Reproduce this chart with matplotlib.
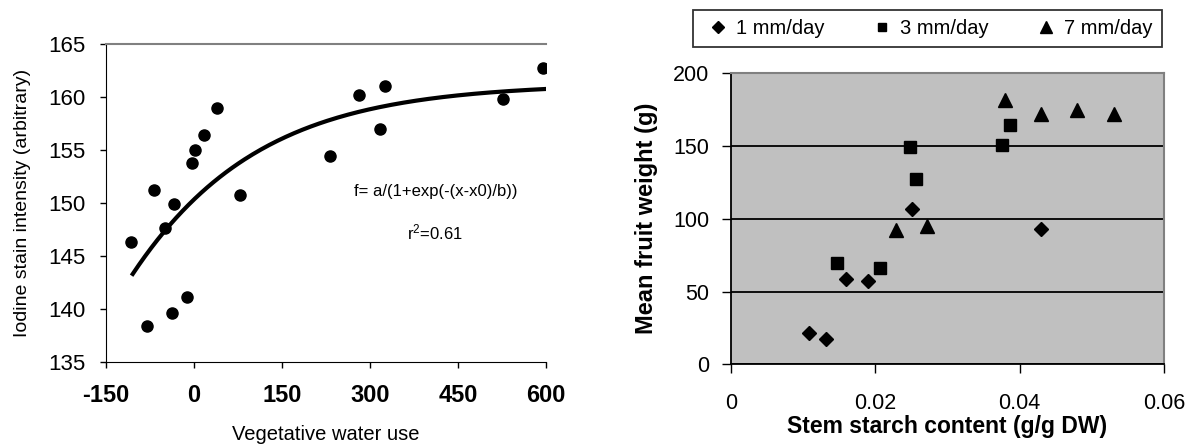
import numpy as np
import matplotlib
matplotlib.use('Agg')
import matplotlib.pyplot as plt

plt.rcParams['font.family'] = ['Liberation Sans', 'DejaVu Sans']
plt.rcParams['axes.unicode_minus'] = False

# left panel: iodine stain vs vegetative water use
water_use = [-107.5, -80.5, -67.6, -50.2, -37.3, -34.1, -11.6, -3.2, 1.9, 17.5,
             38.8, 78.9, 231.2, 280.5, 317.6, 325.4, 526.3, 595.3]
iodine = [146.3, 138.4, 151.2, 147.7, 139.6, 149.9, 141.1, 153.8, 155.0, 156.4,
          159.0, 150.8, 154.5, 160.2, 157.0, 161.1, 159.8, 162.8]
# fitted sigmoid f = a/(1+exp(-(x-x0)/b))
fit_a, fit_x0, fit_b = 161.3, -503.0, 192.0

# right panel: fruit weight vs stem starch
starch_1mm = [0.0108, 0.0131, 0.0160, 0.0190, 0.0251, 0.0429]
weight_1mm = [21.6, 17.5, 58.9, 57.2, 106.7, 92.9]
starch_3mm = [0.0147, 0.0206, 0.0248, 0.0257, 0.0376, 0.0387]
weight_3mm = [69.9, 66.0, 149.4, 127.4, 150.8, 164.6]
starch_7mm = [0.0229, 0.0271, 0.0380, 0.0430, 0.0480, 0.0530]
weight_7mm = [92.4, 95.2, 181.4, 172.0, 174.7, 172.0]

left_xticks = [-150, 0, 150, 300, 450, 600]
left_yticks = [135, 140, 145, 150, 155, 160, 165]
right_xticks = [0, 0.02, 0.04, 0.06]
right_xlabels = ['0', '0.02', '0.04', '0.06']
right_yticks = [0, 50, 100, 150, 200]

fig = plt.figure(figsize=(11.89, 4.48), dpi=100)

# ---- left panel
ax1 = fig.add_axes([0.0892, 0.192, 0.370, 0.709])
ax1.plot(water_use, iodine, 'o', color='black', ms=8)
xs = np.linspace(min(water_use) + 3, max(water_use) + 2, 200)
ax1.plot(xs, fit_a / (1 + np.exp(-(xs - fit_x0) / fit_b)), color='black', lw=3)
ax1.set_xlim(-150, 600)
ax1.set_ylim(135, 165)
ax1.set_xticks(left_xticks)
ax1.set_yticks(left_yticks)
ax1.tick_params(axis='y', direction='out', length=4, width=1, pad=11, labelsize=16)
ax1.tick_params(axis='x', direction='out', length=4, width=1, pad=12, labelsize=17)
for lab in ax1.get_xticklabels():
    lab.set_fontweight('bold')
ax1.spines['right'].set_visible(False)
ax1.spines['top'].set_color('#808080')
ax1.spines['top'].set_linewidth(1.5)
ax1.set_xlabel('Vegetative water use', fontsize=14.5)
ax1.xaxis.set_label_coords(0.5, -0.198)
ax1.set_ylabel('Iodine stain intensity (arbitrary)', fontsize=14, va='center')
ax1.yaxis.set_label_coords(-0.189, 0.5)
ax1.text(412, 151.1, 'f= a/(1+exp(-(x-x0)/b))', fontsize=12, ha='center', va='center')
ax1.text(411, 147.2, r'r$\mathregular{^2}$=0.61', fontsize=12, ha='center', va='center')

# ---- right panel
ax2 = fig.add_axes([0.6148, 0.1868, 0.3642, 0.6496])
ax2.set_facecolor('#c0c0c0')
ax2.set_axisbelow(True)
ax2.yaxis.grid(True, color='black', lw=1.3)
h1, = ax2.plot(starch_1mm, weight_1mm, 'D', color='black', ms=7.2, label='1 mm/day')
h3, = ax2.plot(starch_3mm, weight_3mm, 's', color='black', ms=8, label='3 mm/day')
h7, = ax2.plot(starch_7mm, weight_7mm, '^', color='black', ms=10.5, label='7 mm/day')
ax2.set_xlim(0, 0.06)
ax2.set_ylim(0, 200)
ax2.set_xticks(right_xticks)
ax2.set_xticklabels(right_xlabels)
ax2.set_yticks(right_yticks)
ax2.tick_params(axis='y', direction='out', length=6.5, width=1, pad=9, labelsize=15.5)
ax2.tick_params(axis='x', direction='out', length=6.5, width=1, pad=14, labelsize=15.5)
for side in ['top', 'right']:
    ax2.spines[side].set_color('#808080')
    ax2.spines[side].set_linewidth(1.5)
for side in ['left', 'bottom']:
    ax2.spines[side].set_linewidth(1.3)
ax2.set_xlabel('Stem starch content (g/g DW)', fontsize=16.5, fontweight='bold', va='center')
ax2.xaxis.set_label_coords(0.5, -0.212)
ax2.set_ylabel('Mean fruit weight (g)', fontsize=17, fontweight='bold', va='center')
ax2.yaxis.set_label_coords(-0.194, 0.5)

leg = fig.legend(handles=[h1, h3, h7], loc='center', ncol=3, mode='expand',
                 bbox_to_anchor=(0.5828, 0.8929, 0.3945, 0.087), borderaxespad=0,
                 fontsize=14.5, frameon=True, fancybox=False, borderpad=0.45,
                 handlelength=1.6, handletextpad=0.1, markerscale=0.8)
leg.get_frame().set_edgecolor('black')
leg.get_frame().set_linewidth(1.3)

fig.savefig('out.png', dpi=100)
